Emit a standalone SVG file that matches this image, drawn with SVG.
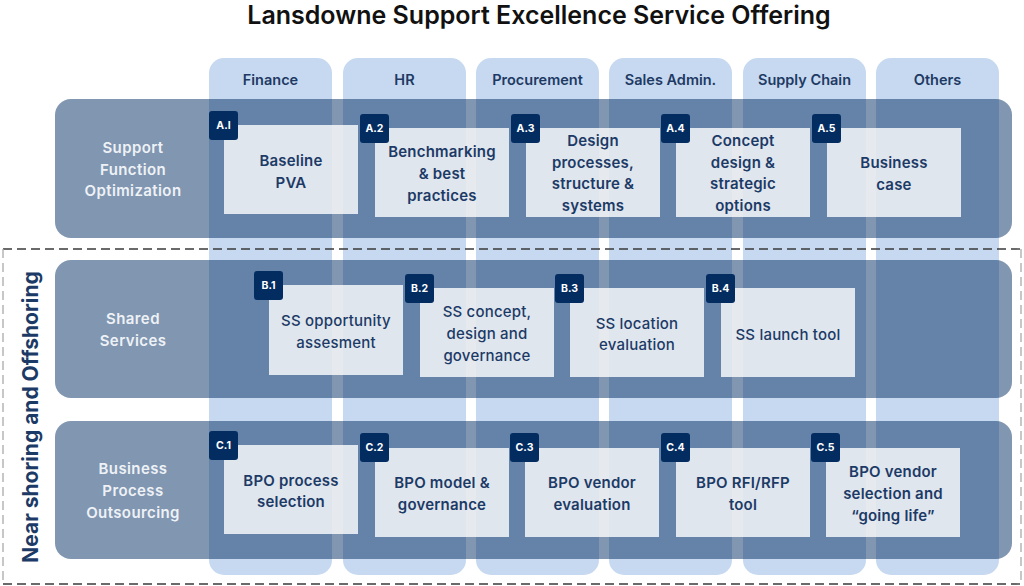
<svg xmlns="http://www.w3.org/2000/svg" width="1024" height="586" viewBox="0 0 1024 586">
<style>
.col{fill:#c6d9f0}
.band{fill:#032d61;fill-opacity:0.5}
.box{fill:#ffffff;fill-opacity:0.8}
.badge{fill:#032d61}
text{font-family:Inter,"Noto Sans","Liberation Sans",sans-serif}
.title{font-size:25px;font-weight:600;fill:#111111;text-anchor:middle}
.hdr{font-size:14.5px;font-weight:600;fill:#1e3a64;text-anchor:middle}
.rl{font-size:15px;font-weight:600;fill:#eef2f7;text-anchor:middle;letter-spacing:0.4px}
.bt{font-size:15px;font-weight:600;fill:#1c3a66;text-anchor:middle;letter-spacing:0.2px}
.bm{font-weight:500}
.bd{font-size:10.5px;font-weight:700;fill:#ffffff;text-anchor:middle}
.vt{font-size:21px;font-weight:700;fill:#1c3a66;text-anchor:middle}
</style>
<rect width="1024" height="586" fill="#ffffff"/>
<text class="title" x="539" y="24">Lansdowne Support Excellence Service Offering</text>

<g id="columns">
<g id="col-finance"><rect class="col" x="209" y="58" width="123" height="517" rx="15"/><text class="hdr" x="270.5" y="85">Finance</text></g>
<g id="col-hr"><rect class="col" x="343" y="58" width="123" height="517" rx="15"/><text class="hdr" x="404.5" y="85">HR</text></g>
<g id="col-procurement"><rect class="col" x="476" y="58" width="123" height="517" rx="15"/><text class="hdr" x="537.5" y="85">Procurement</text></g>
<g id="col-sales"><rect class="col" x="609" y="58" width="123" height="517" rx="15"/><text class="hdr" x="670.5" y="85">Sales Admin.</text></g>
<g id="col-supply"><rect class="col" x="743" y="58" width="123" height="517" rx="15"/><text class="hdr" x="804.5" y="85">Supply Chain</text></g>
<g id="col-others"><rect class="col" x="876" y="58" width="123" height="517" rx="15"/><text class="hdr" x="937.5" y="85">Others</text></g>
</g>

<g id="dashed-frame" fill="none" stroke-dasharray="9 5">
<line x1="3" y1="249" x2="1021" y2="249" stroke="#3a3a3a" stroke-width="1.4"/>
<line x1="3" y1="584" x2="1021" y2="584" stroke="#3a3a3a" stroke-width="1.4"/>
<line x1="3" y1="249" x2="3" y2="584" stroke="#b0b0b0" stroke-width="1.4"/>
<line x1="1021" y1="249" x2="1021" y2="584" stroke="#b0b0b0" stroke-width="1.4"/>
</g>
<text class="vt" transform="translate(38 417) rotate(-90)">Near shoring and Offshoring</text>

<g id="row-a">
<rect class="band" x="55" y="99" width="957" height="139" rx="16"/>
<text class="rl" x="133" y="153">Support</text>
<text class="rl" x="133" y="175">Function</text>
<text class="rl" x="133" y="196">Optimization</text>
</g>
<g id="row-b">
<rect class="band" x="55" y="260" width="957" height="138" rx="16"/>
<text class="rl" x="133" y="324">Shared</text>
<text class="rl" x="133" y="346">Services</text>
</g>
<g id="row-c">
<rect class="band" x="55" y="421" width="957" height="138" rx="16"/>
<text class="rl" x="133" y="474">Business</text>
<text class="rl" x="133" y="496">Process</text>
<text class="rl" x="133" y="518">Outsourcing</text>
</g>

<g id="connectors"/>

<g id="A1"><rect class="box" x="224" y="125" width="134" height="89"/><rect class="badge" x="209" y="111" width="29" height="29" rx="3"/><text class="bd" x="223.5" y="129">A.I</text>
<text class="bt" x="291" y="166">Baseline</text><text class="bt" x="291" y="188">PVA</text></g>
<g id="A2"><rect class="box" x="375" y="128" width="134" height="89"/><rect class="badge" x="360" y="114" width="29" height="29" rx="3"/><text class="bd" x="374.5" y="132">A.2</text>
<text class="bt" x="442" y="157">Benchmarking</text><text class="bt" x="442" y="179">&amp; best</text><text class="bt" x="442" y="201">practices</text></g>
<g id="A3"><rect class="box" x="526" y="128" width="134" height="89"/><rect class="badge" x="511" y="114" width="29" height="29" rx="3"/><text class="bd" x="525.5" y="132">A.3</text>
<text class="bt" x="593" y="146">Design</text><text class="bt" x="593" y="168">processes,</text><text class="bt" x="593" y="189">structure &amp;</text><text class="bt" x="593" y="211">systems</text></g>
<g id="A4"><rect class="box" x="676" y="128" width="134" height="89"/><rect class="badge" x="661" y="114" width="29" height="29" rx="3"/><text class="bd" x="675.5" y="132">A.4</text>
<text class="bt" x="743" y="146">Concept</text><text class="bt" x="743" y="168">design &amp;</text><text class="bt" x="743" y="189">strategic</text><text class="bt" x="743" y="211">options</text></g>
<g id="A5"><rect class="box" x="827" y="128" width="134" height="89"/><rect class="badge" x="812" y="114" width="29" height="29" rx="3"/><text class="bd" x="826.5" y="132">A.5</text>
<text class="bt" x="894" y="168">Business</text><text class="bt" x="894" y="190">case</text></g>

<g id="B1"><rect class="box" x="269" y="285" width="134" height="90"/><rect class="badge" x="254" y="271" width="29" height="29" rx="3"/><text class="bd" x="268.5" y="289">B.1</text>
<text class="bt bm" x="336" y="326">SS opportunity</text><text class="bt bm" x="336" y="348">assesment</text></g>
<g id="B2"><rect class="box" x="420" y="288" width="134" height="89"/><rect class="badge" x="405" y="274" width="29" height="29" rx="3"/><text class="bd" x="419.5" y="292">B.2</text>
<text class="bt bm" x="487" y="317">SS concept,</text><text class="bt bm" x="487" y="339">design and</text><text class="bt bm" x="487" y="361">governance</text></g>
<g id="B3"><rect class="box" x="570" y="288" width="134" height="89"/><rect class="badge" x="555" y="274" width="29" height="29" rx="3"/><text class="bd" x="569.5" y="292">B.3</text>
<text class="bt bm" x="637" y="329">SS location</text><text class="bt bm" x="637" y="350">evaluation</text></g>
<g id="B4"><rect class="box" x="721" y="288" width="134" height="89"/><rect class="badge" x="706" y="274" width="29" height="29" rx="3"/><text class="bd" x="720.5" y="292">B.4</text>
<text class="bt bm" x="788" y="340">SS launch tool</text></g>

<g id="C1"><rect class="box" x="224" y="445" width="134" height="89"/><rect class="badge" x="209" y="431" width="29" height="29" rx="3"/><text class="bd" x="223.5" y="449">C.1</text>
<text class="bt" x="291" y="486">BPO process</text><text class="bt" x="291" y="507">selection</text></g>
<g id="C2"><rect class="box" x="375" y="448" width="134" height="89"/><rect class="badge" x="360" y="433" width="29" height="29" rx="3"/><text class="bd" x="374.5" y="451">C.2</text>
<text class="bt" x="442" y="488">BPO model &amp;</text><text class="bt" x="442" y="510">governance</text></g>
<g id="C3"><rect class="box" x="525" y="448" width="134" height="89"/><rect class="badge" x="510" y="433" width="29" height="29" rx="3"/><text class="bd" x="524.5" y="451">C.3</text>
<text class="bt" x="592" y="488">BPO vendor</text><text class="bt" x="592" y="510">evaluation</text></g>
<g id="C4"><rect class="box" x="676" y="448" width="134" height="89"/><rect class="badge" x="661" y="433" width="29" height="29" rx="3"/><text class="bd" x="675.5" y="451">C.4</text>
<text class="bt" x="743" y="488">BPO RFI/RFP</text><text class="bt" x="743" y="510">tool</text></g>
<g id="C5"><rect class="box" x="826" y="448" width="134" height="89"/><rect class="badge" x="811" y="433" width="29" height="29" rx="3"/><text class="bd" x="825.5" y="451">C.5</text>
<text class="bt" x="893" y="477">BPO vendor</text><text class="bt" x="893" y="499">selection and</text><text class="bt" x="893" y="521">“going life”</text></g>
</svg>
